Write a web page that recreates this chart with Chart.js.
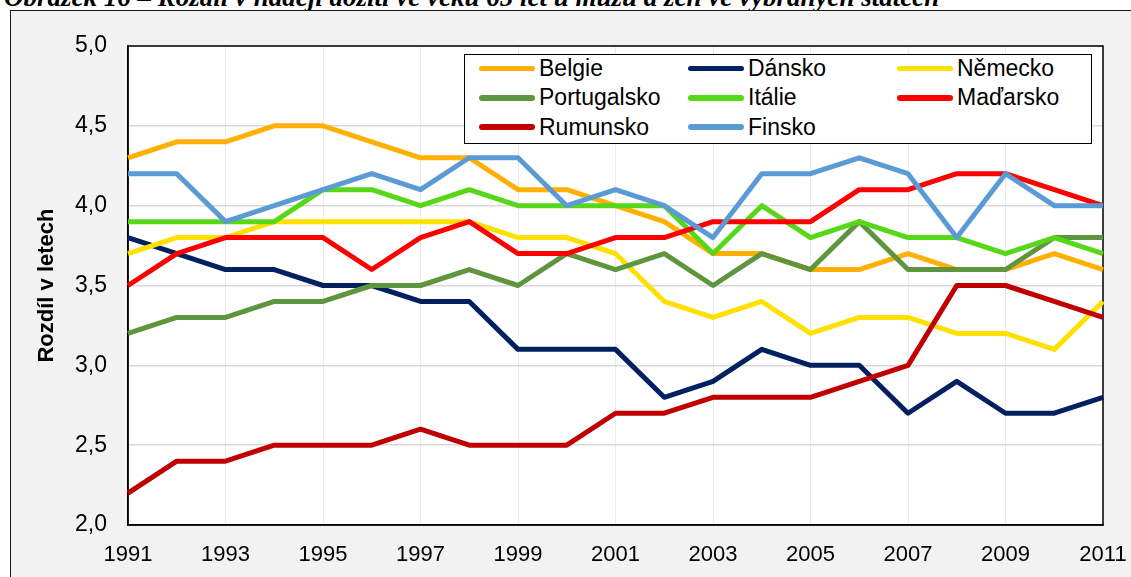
<!DOCTYPE html>
<html>
<head>
<meta charset="utf-8">
<script src="https://cdn.jsdelivr.net/npm/chart.js@4/dist/chart.umd.min.js"></script>
<style>
  html, body { margin: 0; padding: 0; width: 1131px; height: 577px; overflow: hidden; background: #ffffff; }
  #title { position: absolute; left: 4px; top: -18px; white-space: nowrap;
           font: italic bold 27px "Liberation Serif", "DejaVu Serif", serif; color: #000; }
  #frame { position: absolute; left: 10px; top: 10px; width: 1160px; height: 620px;
           background: #f2f2f2; border: 1.5px solid #1a1a1a; }
  #wrap { position: absolute; left: 0; top: 0; width: 1131px; height: 577px; }
  #legend { position: absolute; left: 464px; top: 54px; width: 626px; height: 88px;
            background: #fff; border: 1.5px solid #000; }
  .item { position: absolute; height: 22px; display: flex; align-items: center;
          font: 23px "Liberation Sans", Arial, sans-serif; color: #000; white-space: nowrap; }
  .swatch { display: inline-block; width: 56px; height: 5.5px; border-radius: 3px; margin-right: 4px; }
</style>
</head>
<body>
<div id="title">Obrázek 16 – Rozdíl v naději dožití ve věku 65 let u mužů a žen ve vybraných státech</div>
<div id="frame"></div>
<div id="wrap"><canvas id="c" width="1131" height="577"></canvas></div>
<div id="legend"></div>
<script>
const years = ['1991','1992','1993','1994','1995','1996','1997','1998','1999','2000','2001','2002','2003','2004','2005','2006','2007','2008','2009','2010','2011'];
const seriesNames = ['Belgie','Dánsko','Německo','Portugalsko','Itálie','Maďarsko','Rumunsko','Finsko'];
const seriesColors = ['#FFB000','#002060','#FFE000','#60953F','#56D717','#FF0000','#C00000','#5B9BD5'];
const belgie      = [4.3,4.4,4.4,4.5,4.5,4.4,4.3,4.3,4.1,4.1,4.0,3.9,3.7,3.7,3.6,3.6,3.7,3.6,3.6,3.7,3.6];
const dansko      = [3.8,3.7,3.6,3.6,3.5,3.5,3.4,3.4,3.1,3.1,3.1,2.8,2.9,3.1,3.0,3.0,2.7,2.9,2.7,2.7,2.8];
const nemecko     = [3.7,3.8,3.8,3.9,3.9,3.9,3.9,3.9,3.8,3.8,3.7,3.4,3.3,3.4,3.2,3.3,3.3,3.2,3.2,3.1,3.4];
const portugalsko = [3.2,3.3,3.3,3.4,3.4,3.5,3.5,3.6,3.5,3.7,3.6,3.7,3.5,3.7,3.6,3.9,3.6,3.6,3.6,3.8,3.8];
const italie      = [3.9,3.9,3.9,3.9,4.1,4.1,4.0,4.1,4.0,4.0,4.0,4.0,3.7,4.0,3.8,3.9,3.8,3.8,3.7,3.8,3.7];
const madarsko    = [3.5,3.7,3.8,3.8,3.8,3.6,3.8,3.9,3.7,3.7,3.8,3.8,3.9,3.9,3.9,4.1,4.1,4.2,4.2,4.1,4.0];
const rumunsko    = [2.2,2.4,2.4,2.5,2.5,2.5,2.6,2.5,2.5,2.5,2.7,2.7,2.8,2.8,2.8,2.9,3.0,3.5,3.5,3.4,3.3];
const finsko      = [4.2,4.2,3.9,4.0,4.1,4.2,4.1,4.3,4.3,4.0,4.1,4.0,3.8,4.2,4.2,4.3,4.2,3.8,4.2,4.0,4.0];
const seriesValues = [belgie, dansko, nemecko, portugalsko, italie, madarsko, rumunsko, finsko];
const yTitle = 'Rozdíl v letech';

const FONT = '"Liberation Sans", Arial, sans-serif';

const datasets = seriesNames.map((name, i) => ({
  label: name,
  data: seriesValues[i],
  borderColor: seriesColors[i],
  backgroundColor: seriesColors[i],
  borderWidth: 5,
  pointRadius: 0,
  pointHoverRadius: 0,
  tension: 0,
  fill: false,
  borderJoinStyle: 'round',
  borderCapStyle: 'butt',
  order: seriesNames.length - i
}));

const plotBg = {
  id: 'plotBg',
  beforeDraw(chart) {
    const {ctx, chartArea: a} = chart;
    ctx.save();
    ctx.fillStyle = '#ffffff';
    ctx.fillRect(a.left, a.top, a.right - a.left, a.bottom - a.top);
    ctx.restore();
  },
  beforeDatasetsDraw(chart) {
    const {ctx, chartArea: a} = chart;
    ctx.save();
    ctx.strokeStyle = '#000';
    ctx.lineWidth = 1.5;
    ctx.strokeRect(a.left, a.top, a.right - a.left, a.bottom - a.top);
    ctx.restore();
  }
};

new Chart(document.getElementById('c'), {
  type: 'line',
  data: { labels: years, datasets },
  options: {
    responsive: false,
    animation: false,
    devicePixelRatio: 1,
    layout: { padding: { top: 46, right: 28, bottom: 0, left: 0 } },
    plugins: { legend: { display: false }, tooltip: { enabled: false } },
    scales: {
      x: {
        type: 'category',
        offset: false,
        afterFit(s) { s.height = 52; s.paddingLeft = 0; s.paddingRight = 0; },
        grid: {
          color: (c) => (c.index % 2 === 0 ? '#ebebeb' : 'rgba(0,0,0,0)'),
          lineWidth: 1,
          drawTicks: false
        },
        border: { display: true, color: '#000', width: 1.5 },
        ticks: {
          autoSkip: false, maxRotation: 0, minRotation: 0,
          padding: 17, color: '#000',
          font: { family: FONT, size: 22 },
          callback(v, i) { return i % 2 === 0 ? years[i] : ''; }
        }
      },
      y: {
        min: 2, max: 5,
        afterFit(s) { s.width = 128; s.paddingTop = 0; s.paddingBottom = 0; },
        grid: { color: '#d9d9d9', lineWidth: 1.5, drawTicks: false },
        border: { display: true, color: '#000', width: 1.5 },
        ticks: {
          stepSize: 0.5, padding: 21, color: '#000',
          font: { family: FONT, size: 23 },
          callback(v) { return v.toFixed(1).replace('.', ','); }
        },
        title: {
          display: true, text: yTitle, color: '#000',
          font: { family: FONT, size: 22, weight: 'bold' },
          padding: { top: 34, bottom: 0 }
        }
      }
    }
  },
  plugins: [plotBg]
});

const legend = document.getElementById('legend');
seriesNames.forEach((name, i) => {
  const col = i % 3, row = Math.floor(i / 3);
  const el = document.createElement('div');
  el.className = 'item';
  el.style.left = (14 + col * 209) + 'px';
  el.style.top = (2.5 + row * 29.3) + 'px';
  const sw = document.createElement('span');
  sw.className = 'swatch';
  sw.style.background = seriesColors[i];
  el.appendChild(sw);
  el.appendChild(document.createTextNode(name));
  legend.appendChild(el);
});
</script>
</body>
</html>
